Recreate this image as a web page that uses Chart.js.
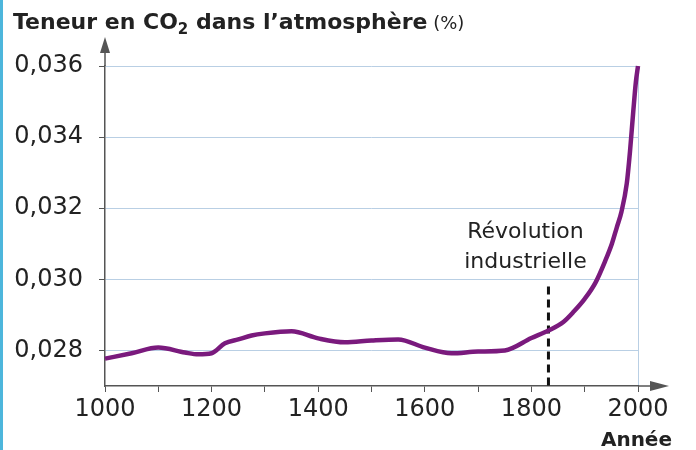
<!DOCTYPE html>
<html lang="fr">
<head>
<meta charset="utf-8">
<script src="https://cdn.jsdelivr.net/npm/chart.js@4"></script>
<style>
    html, body { margin: 0; padding: 0; }
    body {
        width: 696px; height: 450px; overflow: hidden;
        background: linear-gradient(to right, #4db6dc 0, #4db6dc 3px, #ffffff 3px);
    }
    #wrap { position: relative; width: 696px; height: 450px; }
</style>
</head>
<body>
<div id="wrap"><canvas id="chart"></canvas></div>
<script>
// CO2 content of the atmosphere (%)
const YEARS = [1000, 1050, 1100, 1150, 1175, 1200, 1225, 1250, 1275, 1300, 1350, 1400, 1450, 1500, 1550,
    1600, 1650, 1700, 1750, 1800, 1832, 1860, 1880, 1900, 1920, 1938, 1951, 1960, 1969, 1979, 1985, 1991, 1996, 2000];
const CO2 = [0.02777, 0.02792, 0.02808, 0.02794, 0.02789, 0.02792, 0.0282, 0.02831, 0.02842, 0.02848, 0.02854,
    0.02834, 0.02823, 0.02828, 0.02831, 0.02808, 0.02792, 0.02797, 0.028, 0.02835, 0.02856, 0.0288, 0.0291,
    0.02945, 0.0299, 0.0305, 0.031, 0.03145, 0.0319, 0.0327, 0.0336, 0.0347, 0.03555, 0.036];

const X_TICKS = [1000, 1100, 1200, 1300, 1400, 1500, 1600, 1700, 1800, 1900, 2000];
const Y_TICKS = [0.028, 0.030, 0.032, 0.034, 0.036];

const TITLE_PARTS = ['Teneur en CO', '2', ' dans l\u2019atmosphère', ' (%)'];
const X_TITLE = 'Année';
const MARK_YEAR = 1832;
const MARK_TOP = 0.0298;
const MARK_LABEL = ['Révolution', 'industrielle'];

const AXIS = '#555';
const GRID = '#b9cfe4';
const TEXT = '#222';
const FONT = '"DejaVu Sans", sans-serif';

// Axis arrows, industrial revolution marker and all free-standing text
const decor = {
    id: 'decor',
    beforeDatasetsDraw(chart) {
        const { ctx, scales: { x, y } } = chart;
        const px = x.getPixelForValue(MARK_YEAR);
        ctx.save();
        ctx.strokeStyle = '#111';
        ctx.lineWidth = 3;
        ctx.setLineDash([8, 5]);
        ctx.beginPath();
        ctx.moveTo(px, y.getPixelForValue(MARK_TOP));
        ctx.lineTo(px, y.bottom);
        ctx.stroke();
        ctx.restore();
    },
    afterDraw(chart) {
        const { ctx, chartArea: a, scales: { x } } = chart;
        ctx.save();
        ctx.strokeStyle = AXIS;
        ctx.fillStyle = AXIS;
        ctx.lineWidth = 1.5;

        // y axis extension + arrow
        ctx.beginPath();
        ctx.moveTo(a.left, a.top);
        ctx.lineTo(a.left, 50);
        ctx.stroke();
        ctx.beginPath();
        ctx.moveTo(a.left, 37);
        ctx.lineTo(a.left - 5, 53);
        ctx.lineTo(a.left + 5, 53);
        ctx.closePath();
        ctx.fill();

        // x axis extension + arrow
        ctx.beginPath();
        ctx.moveTo(a.right, a.bottom);
        ctx.lineTo(652, a.bottom);
        ctx.stroke();
        ctx.beginPath();
        ctx.moveTo(669, a.bottom);
        ctx.lineTo(650, a.bottom - 5);
        ctx.lineTo(650, a.bottom + 5);
        ctx.closePath();
        ctx.fill();

        // marker label
        ctx.fillStyle = TEXT;
        ctx.font = '22px ' + FONT;
        ctx.textAlign = 'center';
        ctx.textBaseline = 'alphabetic';
        const lx = x.getPixelForValue(MARK_YEAR) - 23;
        ctx.fillText(MARK_LABEL[0], lx, 238);
        ctx.fillText(MARK_LABEL[1], lx, 268);

        // x title
        ctx.font = 'bold 20px ' + FONT;
        ctx.textAlign = 'right';
        ctx.fillText(X_TITLE, 672, 446);

        // chart title with subscript
        ctx.textAlign = 'left';
        let tx = 13;
        const ty = 29;
        ctx.font = 'bold 22px ' + FONT;
        ctx.fillText(TITLE_PARTS[0], tx, ty);
        tx += ctx.measureText(TITLE_PARTS[0]).width;
        ctx.font = 'bold 15px ' + FONT;
        ctx.fillText(TITLE_PARTS[1], tx, ty + 5);
        tx += ctx.measureText(TITLE_PARTS[1]).width;
        ctx.font = 'bold 22px ' + FONT;
        ctx.fillText(TITLE_PARTS[2], tx, ty);
        tx += ctx.measureText(TITLE_PARTS[2]).width;
        ctx.font = '18px ' + FONT;
        ctx.fillText(TITLE_PARTS[3], tx, ty);
        ctx.restore();
    }
};

const canvas = document.getElementById('chart');
new Chart(canvas.getContext('2d'), {
    type: 'line',
    data: {
        datasets: [{
            data: YEARS.map((yr, i) => ({ x: yr, y: CO2[i] })),
            borderColor: '#7a1a7d',
            borderWidth: 4.5,
            pointRadius: 0,
            fill: false,
            tension: 0.4,
            cubicInterpolationMode: 'monotone',
            clip: 5
        }]
    },
    options: {
        responsive: true,
        maintainAspectRatio: false,
        animation: false,
        devicePixelRatio: 1,
        layout: { padding: { top: 66, right: 58, bottom: 0, left: 0 } },
        plugins: { legend: { display: false }, tooltip: { enabled: false } },
        scales: {
            x: {
                type: 'linear',
                min: 1000,
                max: 2000,
                afterBuildTicks: s => { s.ticks = X_TICKS.map(v => ({ value: v })); },
                afterFit: s => { s.height = 64; },
                ticks: {
                    autoSkip: false,
                    maxRotation: 0,
                    padding: 3,
                    color: TEXT,
                    font: { family: FONT, size: 24 },
                    callback: v => (v % 200 === 0 ? String(v) : '')
                },
                grid: {
                    color: c => (c.tick && c.tick.value === 2000 ? GRID : 'rgba(0,0,0,0)'),
                    tickColor: AXIS,
                    tickLength: 6,
                    lineWidth: 1
                },
                border: { color: AXIS, width: 1.5 }
            },
            y: {
                min: 0.027,
                max: 0.036,
                afterBuildTicks: s => { s.ticks = Y_TICKS.map(v => ({ value: v })); },
                afterFit: s => { s.width = 105; },
                ticks: {
                    padding: 16,
                    color: TEXT,
                    font: { family: FONT, size: 24 },
                    callback: v => v.toFixed(3).replace('.', ',')
                },
                grid: { color: GRID, tickColor: AXIS, tickLength: 6, lineWidth: 1 },
                border: { color: AXIS, width: 1.5 }
            }
        }
    },
    plugins: [decor]
});
</script>
</body>
</html>
